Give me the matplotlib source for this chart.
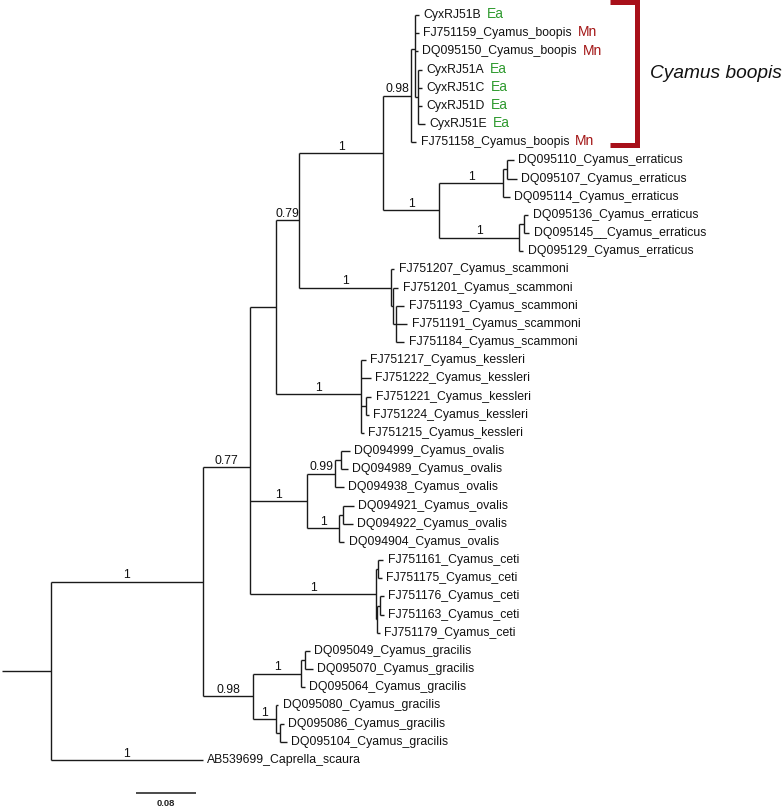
import matplotlib
matplotlib.use('Agg')
import matplotlib.pyplot as plt

# ---------------- data (Newick pieces, branch lengths in substitutions/site) -------------
boopis = ("((CyxRJ51B:0.0053,FJ751159_Cyamus_boopis:0.0053,DQ095150_Cyamus_boopis:0.004,"
          "(CyxRJ51A:0.0053,CyxRJ51C:0.0053,CyxRJ51D:0.0053,CyxRJ51E:0.0093):0.004):0.0053,"
          "FJ751158_Cyamus_boopis:0.0067)0.98:0.0373")
erraticus = ("(((DQ095110_Cyamus_erraticus:0.0093,DQ095107_Cyamus_erraticus:0.0133):0.0053,"
             "DQ095114_Cyamus_erraticus:0.0093)1:0.0853,"
             "((DQ095136_Cyamus_erraticus:0.0053,DQ095145__Cyamus_erraticus:0.0067):0.0067,"
             "DQ095129_Cyamus_erraticus:0.0053)1:0.1067)1:0.0747")
scammoni = ("(FJ751207_Cyamus_scammoni:0.004,(FJ751201_Cyamus_scammoni:0.0067,"
            "(FJ751193_Cyamus_scammoni:0.0107,FJ751191_Cyamus_scammoni:0.0147,"
            "FJ751184_Cyamus_scammoni:0.0107):0.004):0.0027)1:0.1227")
kessleri = ("(FJ751217_Cyamus_kessleri:0.0067,FJ751222_Cyamus_kessleri:0.0133,"
            "(FJ751221_Cyamus_kessleri:0.0067,FJ751224_Cyamus_kessleri:0.004):0.0067,"
            "FJ751215_Cyamus_kessleri:0.004)1:0.1133")
ovalis = ("(((DQ094999_Cyamus_ovalis:0.012,DQ094989_Cyamus_ovalis:0.0093):0.008,"
          "DQ094938_Cyamus_ovalis:0.012)0.99:0.0373,"
          "((DQ094921_Cyamus_ovalis:0.0147,DQ094922_Cyamus_ovalis:0.0133):0.0053,"
          "DQ094904_Cyamus_ovalis:0.0067)1:0.0427)1:0.076")
ceti = ("((FJ751161_Cyamus_ceti:0.0067,FJ751175_Cyamus_ceti:0.0053):0.0027,"
        "((FJ751176_Cyamus_ceti:0.0053,FJ751163_Cyamus_ceti:0.0053):0.004,"
        "FJ751179_Cyamus_ceti:0.004):0.0013)1:0.168")
gracilis = ("(((DQ095049_Cyamus_gracilis:0.0067,DQ095070_Cyamus_gracilis:0.0107):0.0053,"
            "DQ095064_Cyamus_gracilis:0.0053)1:0.064,"
            "(DQ095080_Cyamus_gracilis:0.0027,(DQ095086_Cyamus_gracilis:0.0053,"
            "DQ095104_Cyamus_gracilis:0.0093):0.0053)1:0.0307)0.98:0.0667")
outgroup = "AB539699_Caprella_scaura:0.2027"

node_079 = "(" + "(" + boopis + "," + erraticus + ")1:0.112," + scammoni + ")0.79:0.0307"
node_275 = "(" + node_079 + "," + kessleri + "):0.0347"
node_077 = "(" + node_275 + "," + ovalis + "," + ceti + ")0.77:0.0627"
ingroup = "(" + node_077 + "," + gracilis + ")1:0.2027"
newick = "(" + ingroup + "," + outgroup + "):0.0653;"

tip_support = {"AB539699_Caprella_scaura": "1"}
tags = {"CyxRJ51B": "Ea", "FJ751159_Cyamus_boopis": "Mn", "DQ095150_Cyamus_boopis": "Mn",
        "CyxRJ51A": "Ea", "CyxRJ51C": "Ea", "CyxRJ51D": "Ea", "CyxRJ51E": "Ea",
        "FJ751158_Cyamus_boopis": "Mn"}
tag_colors = {"Ea": "#2f9a2f", "Mn": "#a31515"}
clade_name = "Cyamus boopis"
scale_length = 0.08

# ---------------- parsing / layout -------------
def parse_newick(s):
    s = s.strip().rstrip(';')
    pos = 0

    def node():
        nonlocal pos
        n = {'children': [], 'name': '', 'len': 0.0}
        if s[pos] == '(':
            pos += 1
            while True:
                n['children'].append(node())
                if s[pos] == ',':
                    pos += 1
                    continue
                if s[pos] == ')':
                    pos += 1
                    break
        start = pos
        while pos < len(s) and s[pos] not in ',():':
            pos += 1
        n['name'] = s[start:pos]
        if pos < len(s) and s[pos] == ':':
            pos += 1
            start = pos
            while pos < len(s) and s[pos] not in ',()':
                pos += 1
            n['len'] = float(s[start:pos])
        return n
    return node()


root = parse_newick(newick)
tips = []
nodes = []


def layout(n, x0):
    n['x0'] = x0
    n['x'] = x0 + n['len']
    nodes.append(n)
    if n['children']:
        for c in n['children']:
            layout(c, n['x'])
        n['y'] = sum(c['y'] for c in n['children']) / len(n['children'])
    else:
        n['y'] = len(tips)
        tips.append(n)


layout(root, 0.0)

# ---------------- drawing -------------
fig = plt.figure(figsize=(7.84, 8.09), dpi=100)
ax = fig.add_axes([0, 0, 1, 1])
ax.set_xlim(-0.00267, 1.04267)
ax.set_ylim(43.70, -0.8255)
ax.axis('off')

LC = '#1a1a1a'
LW = 1.0
FONT = 'Liberation Sans'

for n in nodes:
    ax.plot([n['x0'], n['x']], [n['y'], n['y']], color=LC, lw=LW, solid_capstyle='butt')
    if n['children']:
        ys = [c['y'] for c in n['children']]
        ax.plot([n['x'], n['x']], [min(ys), max(ys)], color=LC, lw=LW, solid_capstyle='butt')
    # support labels
    lab = ''
    if n['children'] and n is not root:
        lab = n['name']
    elif not n['children']:
        lab = tip_support.get(n['name'], '')
    if lab:
        ax.annotate(lab, ((n['x0'] + n['x']) / 2, n['y']), xytext=(0, 0.3),
                    textcoords='offset points', ha='center', va='bottom',
                    fontsize=8.8, family=FONT, color='#111111')

for t in tips:
    txt = ax.annotate(t['name'], (t['x'], t['y']), xytext=(3.2, 0), textcoords='offset points',
                      ha='left', va='center', fontsize=8.8, family=FONT, color='#111111')
    if t['name'] in tags:
        tg = tags[t['name']]
        ax.annotate(tg, xy=(1, 0.5), xycoords=txt, xytext=(4.5, 0.6), textcoords='offset points',
                    ha='left', va='center', fontsize=10, family=FONT, color=tag_colors[tg])

# clade bracket
br_x0, br_x1 = 0.8107, 0.8467
br_y0, br_y1 = -0.69, 7.15
ax.plot([br_x0, br_x1, br_x1, br_x0], [br_y0, br_y0, br_y1, br_y1], color='#a8101a',
        lw=3.6, solid_joinstyle='miter', solid_capstyle='butt')
ax.text(0.864, 3.2, clade_name, fontsize=13.8, style='italic', family=FONT,
        ha='left', va='center', color='#111111')

# scale bar
sb_x, sb_y = 0.1787, 42.82
ax.plot([sb_x, sb_x + scale_length], [sb_y, sb_y], color=LC, lw=1.1, solid_capstyle='butt')
ax.annotate(f"{scale_length:.2f}", (sb_x + scale_length / 2, sb_y), xytext=(0, -4),
            textcoords='offset points', ha='center', va='top', fontsize=6.8,
            family=FONT, fontweight='bold', color='#222222')

fig.savefig('out.png', dpi=100)
